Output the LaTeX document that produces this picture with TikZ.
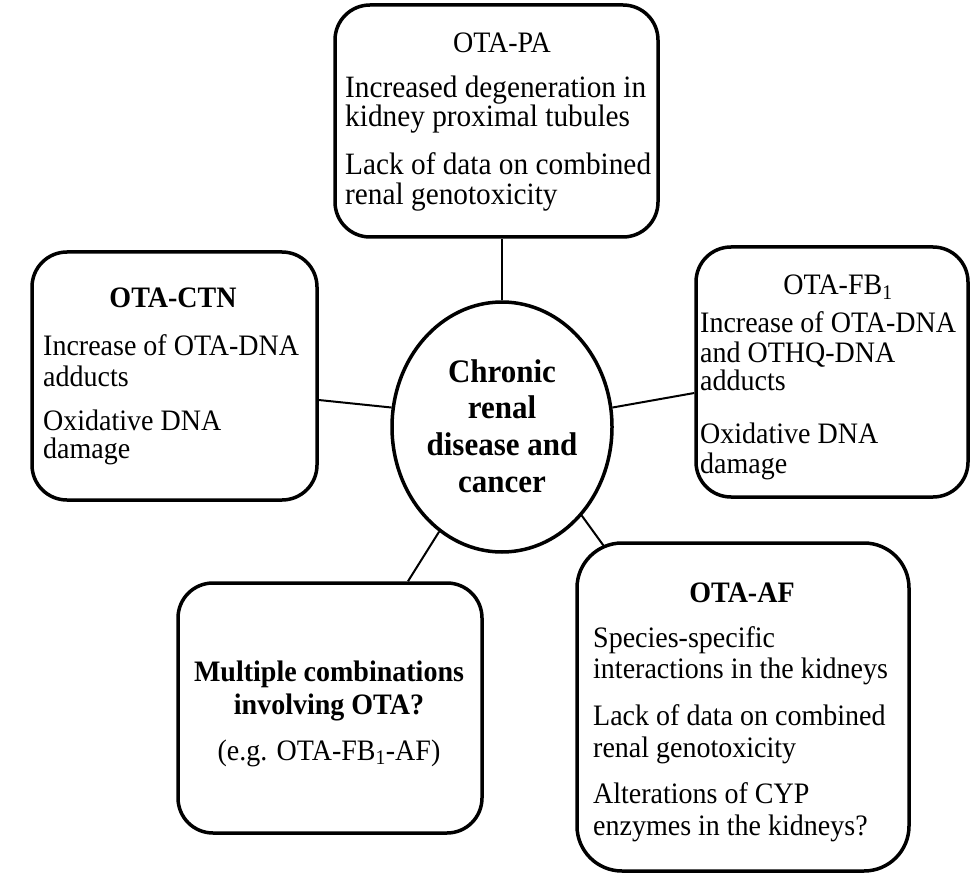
\documentclass[tikz,border=0pt]{standalone}
\usepackage{fontspec}
\usepackage{graphicx}
\setmainfont{Liberation Serif}
\usetikzlibrary{calc,shapes.geometric}
\newcommand{\tallt}[1]{\scalebox{1}[1.06]{#1}}
\begin{document}
\begin{tikzpicture}[x=1pt,y=-1pt,
  box/.style={draw,line width=3.5pt,rounded corners=35pt,inner sep=0pt},
  hub/.style={draw,ellipse,line width=3.5pt,inner sep=0pt,minimum width=220pt,minimum height=250pt},
  link/.style={line width=2pt},
  txt/.style={inner sep=0pt,anchor=base west,font=\fontsize{28}{30}\selectfont},
  ptxt/.style={inner sep=0pt,anchor=base west,font=\fontsize{29.3}{30}\selectfont},
  ttl/.style={inner sep=0pt,anchor=base,font=\fontsize{28}{30}\selectfont},
  bttl/.style={inner sep=0pt,anchor=base,font=\fontsize{28}{30}\selectfont\bfseries},
  ctr/.style={inner sep=0pt,anchor=base,font=\fontsize{31}{33}\selectfont\bfseries}]
\useasboundingbox (0,0) rectangle (971,874);

% boxes
\node[box,minimum width=323pt,minimum height=232pt] (pa) at (496.5,121) {};
\node[box,minimum width=285pt,minimum height=248pt] (ctn) at (174.5,376) {};
\node[box,minimum width=272pt,minimum height=250pt] (fb) at (832,372) {};
\node[box,minimum width=304pt,minimum height=250pt] (mc) at (330,708) {};
\node[box,rounded corners=45pt,minimum width=332pt,minimum height=328pt] (af) at (743,707) {};
\node[hub] (c) at (502,427) {};

% connectors
\draw[link] (c.north) -- (c.north |- pa.south);
\draw[link] (c.170) -- ([yshift=-24pt]ctn.east);
\draw[link] (c.10) -- ([yshift=-21pt]fb.west);
\draw[link] (c.239) -- ([xshift=78pt]mc.north);
\draw[link] (c.312) -- ($(af.north west)+(28,4)$);

% centre text
\node[ctr] (c1) at (502,382) {\tallt{Chronic}};
\node[ctr] (c2) at (502,418) {\tallt{renal}};
\node[ctr] (c3) at (502,455) {\tallt{disease and}};
\node[ctr] (c4) at (502,492) {\tallt{cancer}};

% OTA-PA
\node[ttl] (pat) at (502,53) {\tallt{OTA-PA}};
\node[ptxt] (pa1) at (345,98) {\tallt{Increased degeneration in}};
\node[ptxt] (pa2) at (345,127) {\tallt{kidney proximal tubules}};
\node[ptxt] (pa3) at (345,175) {\tallt{Lack of data on combined}};
\node[ptxt] (pa4) at (345,205) {\tallt{renal genotoxicity}};

% OTA-CTN
\node[bttl] (ctnt) at (173,308) {\tallt{OTA-CTN}};
\node[txt] (ctn1) at (43,355) {\tallt{Increase of OTA-DNA}};
\node[txt] (ctn2) at (43,386) {\tallt{adducts}};
\node[txt] (ctn3) at (43,430) {\tallt{Oxidative DNA}};
\node[txt] (ctn4) at (43,458) {\tallt{damage}};

% OTA-FB1
\node[ttl] (fbt) at (838,295) {\tallt{OTA-FB\textsubscript{1}}};
\node[txt] (fb1) at (700,332) {\tallt{Increase of OTA-DNA}};
\node[txt] (fb2) at (700,362) {\tallt{and OTHQ-DNA}};
\node[txt] (fb3) at (700,390) {\tallt{adducts}};
\node[txt] (fb4) at (700,443) {\tallt{Oxidative DNA}};
\node[txt] (fb5) at (700,473) {\tallt{damage}};

% Multiple
\node[bttl] (mc1) at (329,681) {\tallt{Multiple combinations}};
\node[bttl] (mc2) at (329,714) {\tallt{involving OTA?}};
\node[ttl] (mc3) at (329,760) {\tallt{(e.g. OTA-FB\textsubscript{1}-AF)}};

% OTA-AF
\node[bttl] (aft) at (742,602) {\tallt{OTA-AF}};
\node[txt] (af1) at (593,647) {\tallt{Species-specific}};
\node[txt] (af2) at (593,678) {\tallt{interactions in the kidneys}};
\node[txt] (af3) at (593,725) {\tallt{Lack of data on combined}};
\node[txt] (af4) at (593,757) {\tallt{renal genotoxicity}};
\node[txt] (af5) at (593,803) {\tallt{Alterations of CYP}};
\node[txt] (af6) at (593,835) {\tallt{enzymes in the kidneys?}};
\end{tikzpicture}
\end{document}
